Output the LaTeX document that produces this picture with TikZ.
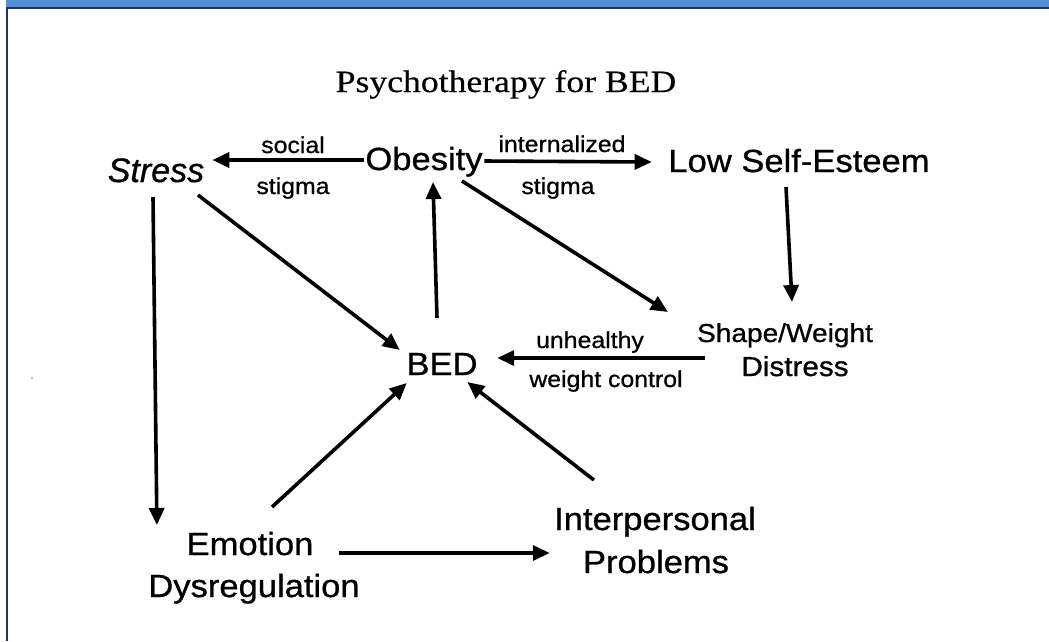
\documentclass[tikz,border=0pt]{standalone}
\usepackage{fontspec}
\setmainfont{Liberation Sans}
\newfontfamily\labfont[FakeStretch=1.08,FakeBold=0.8]{Liberation Sans}
\newfontfamily\slantfont[FakeBold=0.8]{Liberation Sans}
\newfontfamily\headfont[FakeStretch=1.15,FakeBold=0.4]{Liberation Serif}
\usetikzlibrary{arrows.meta}
\definecolor{barblue}{RGB}{86,142,213}
\definecolor{framenavy}{RGB}{28,52,104}

\begin{document}
\begin{tikzpicture}[x=1pt,y=-1pt,
  concept/.style={font=\labfont\fontsize{32}{38}\selectfont, inner sep=0pt, anchor=base},
  note/.style={font=\labfont\fontsize{23}{27}\selectfont, inner sep=0pt, anchor=base},
  heading/.style={font=\headfont\fontsize{31}{36}\selectfont, inner sep=0pt, anchor=base},
  link/.style={line width=3.6pt, -{Triangle[length=17pt,width=15pt]}}]

\useasboundingbox (0,0) rectangle (1049,641);
\fill[white] (0,0) rectangle (1049,641);

% frame: blue header strip and navy rules
\fill[barblue] (6,0) rectangle (1049,7.5);
\draw[framenavy, line width=1.8pt] (6,8.3) -- (1049,8.3);
\draw[framenavy, line width=2pt] (7,8) -- (7,641);
\fill[gray!70] (32,378) circle (1.1);

% heading
\node[heading] (title) at (506,92) {Psychotherapy for BED};

% concepts
\node[concept, font=\slantfont\fontsize{34}{40}\selectfont\itshape] (stress) at (156,182) {Stress};
\node[concept] (obesity) at (424,170) {Obesity};
\node[concept] (lse) at (799,172) {Low Self-Esteem};
\node[concept, font=\labfont\fontsize{26}{30}\selectfont] (sw1) at (785,342) {Shape/Weight};
\node[concept, font=\labfont\fontsize{27.5}{30}\selectfont] (sw2) at (795,376) {Distress};
\node[concept] (bed) at (442,375) {BED};
\node[concept] (emo1) at (250,555) {Emotion};
\node[concept] (emo2) at (254,597) {Dysregulation};
\node[concept] (int1) at (655,530) {Interpersonal};
\node[concept] (int2) at (656,573) {Problems};

% arrow labels
\node[note] (social) at (293,153) {social};
\node[note] (stigmaA) at (293,194) {stigma};
\node[note] (internal) at (562,152) {internalized};
\node[note] (stigmaB) at (558,194) {stigma};
\node[note] (unhealthy) at (590,348) {unhealthy};
\node[note] (wcontrol) at (606,387) {weight control};

% connectors
\draw[link] ([shift={(-1.5,-10)}]obesity.base west) -- ([shift={(8,-22)}]stress.base east);
\draw[link] ([shift={(1.5,-9)}]obesity.base east) -- ([shift={(-16.5,-10)}]lse.base west);
\draw[link] ([shift={(-13,15)}]lse.base) -- ([shift={(7,-40)}]sw1.base);
\draw[link] ([shift={(38,11)}]obesity.base) -- ([shift={(-29,-30)}]sw1.base west);
\draw[link] ([shift={(-5,-57)}]bed.base) -- ([shift={(9,12)}]obesity.base);
\draw[link] ([shift={(42,13)}]stress.base) -- ([shift={(-6.5,-25)}]bed.base west);
\draw[link] ([shift={(-3,15)}]stress.base) -- ([shift={(-29.5,-30)}]emo1.base west);
\draw[link] ([shift={(8,16)}]sw1.base west) -- ([shift={(19.5,-17)}]bed.base east);
\draw[link] ([shift={(22,-48)}]emo1.base) -- ([shift={(0.5,8)}]bed.base west);
\draw[link] ([shift={(40,-50)}]int1.base west) -- ([shift={(-10.5,7)}]bed.base east);
\draw[link] ([shift={(25.5,-2)}]emo1.base east) -- ([shift={(-33,-20)}]int2.base west);
\end{tikzpicture}
\end{document}
